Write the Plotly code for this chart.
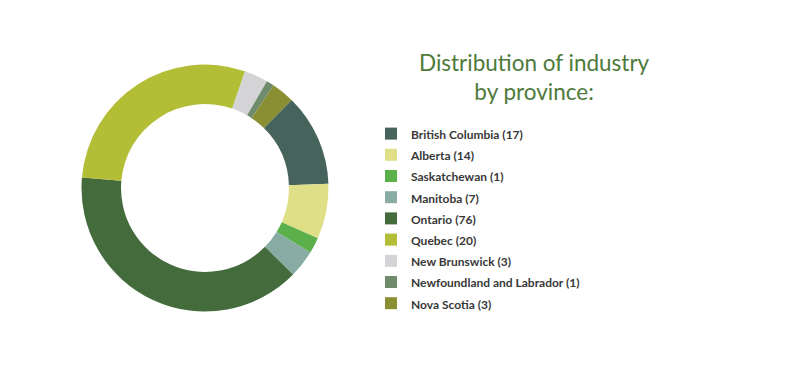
import plotly.graph_objects as go

provinces = ["British Columbia", "Alberta", "Saskatchewan", "Manitoba", "Ontario",
             "Quebec", "New Brunswick", "Newfoundland and Labrador", "Nova Scotia"]
counts = [17, 14, 1, 7, 76, 20, 3, 1, 3]
# slice shares (%) as drawn in the donut
shares = [12.1, 7.2, 2.1, 3.6, 39.0, 28.9, 3.1, 1.0, 3.0]
colors = ["#46635c", "#dfdf87", "#5bb04c", "#88aba4", "#436b3c",
          "#b3bd35", "#d4d4d6", "#6f8b6c", "#8a8f33"]

labels = [f'<span style="font-size:12px;font-weight:bold">{p} ({c})</span>'
          for p, c in zip(provinces, counts)]

W, H = 792, 381
OFF = 8  # page body margin
cx, cy, r = 205 - OFF, 188 - OFF, 123.5

fig = go.Figure(go.Pie(
    labels=labels,
    values=shares,
    hole=0.68,
    sort=False,
    direction="clockwise",
    rotation=44.5,
    marker=dict(colors=colors, line=dict(width=0)),
    textinfo="none",
    hoverinfo="label",
    domain=dict(x=[(cx - r) / W, (cx + r) / W], y=[(H - cy - r) / H, (H - cy + r) / H]),
))

fig.update_layout(
    width=W, height=H,
    margin=dict(l=0, r=0, t=0, b=0),
    paper_bgcolor="white",
    plot_bgcolor="white",
    showlegend=True,
    legend=dict(
        x=(371 - OFF) / W, y=1 - (118 - OFF) / H, xanchor="left", yanchor="top",
        font=dict(family="Lato", size=14, color="#383838"),
        itemclick=False, itemdoubleclick=False,
        bgcolor="rgba(0,0,0,0)",
    ),
    annotations=[dict(
        text="Distribution of industry<br>by province:",
        x=(534 - OFF) / W, y=1 - (77 - OFF) / H, xref="paper", yref="paper",
        xanchor="center", yanchor="middle", showarrow=False,
        font=dict(family="Lato", size=22.5, color="#4e7a3a"),
        align="center",
    )],
)

fig.write_html("out.html")
